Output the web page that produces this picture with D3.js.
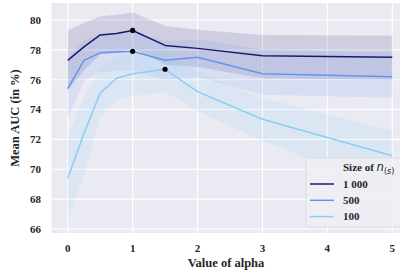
<!DOCTYPE html>
<html><head><meta charset="utf-8">
<script src="https://cdn.jsdelivr.net/npm/d3@7"></script>
<style>body{margin:0;background:#fff}svg{display:block}</style>
</head><body>
<svg id="c" width="400" height="277"></svg>
<script>
const alphas = [0, 0.25, 0.5, 0.75, 1, 1.5, 2, 3, 5];
const seriesNames = ["1 000", "500", "100"];
const mean1000 = [77.3, 78.2, 79.0, 79.1, 79.3, 78.3, 78.1, 77.6, 77.5];
const up1000   = [79.3, 79.8, 80.25, 80.35, 80.5, 79.6, 79.35, 79.0, 78.95];
const lo1000   = [75.3, 76.6, 77.7, 77.8, 78.1, 77.0, 76.85, 76.1, 76.0];
const mean500  = [75.4, 77.3, 77.8, 77.85, 77.9, 77.3, 77.5, 76.4, 76.2];
const up500    = [77.4, 78.7, 79.0, 79.1, 79.2, 78.6, 78.7, 78.0, 77.8];
const lo500    = [73.4, 75.9, 76.5, 76.6, 76.6, 76.0, 76.2, 75.0, 74.8];
const mean100  = [69.4, 72.4, 75.1, 76.1, 76.4, 76.7, 75.2, 73.35, 70.9];
const up100    = [72.2, 74.8, 76.8, 77.5, 77.8, 78.0, 76.5, 74.8, 72.6];
const lo100    = [66.6, 69.6, 73.5, 74.6, 74.9, 75.2, 73.9, 71.9, 68.6];
const xTicks = [0, 1, 2, 3, 4, 5];
const yTicks = [66, 68, 70, 72, 74, 76, 78, 80];
const colors = ["#191970", "#6495ED", "#87CEFA"];

const series = [
  {name: seriesNames[0], mean: mean1000, up: up1000, lo: lo1000, color: colors[0]},
  {name: seriesNames[1], mean: mean500, up: up500, lo: lo500, color: colors[1]},
  {name: seriesNames[2], mean: mean100, up: up100, lo: lo100, color: colors[2]}
];

const svg = d3.select("#c");
const L = 51.5, R = 408.5, T = 3, B = 233;
const x = d3.scaleLinear().domain([-0.25, 5.25]).range([L, R]);
const y = d3.scaleLinear().domain([65.73, 81.14]).range([B, T]);
const serif = "'Liberation Serif','DejaVu Serif',serif";
const txt = "#262626";

svg.append("rect").attr("x", L).attr("y", T).attr("width", R - L).attr("height", B - T).attr("fill", "#EAEAF2");

const g = svg.append("g");
g.selectAll("line.gx").data(xTicks).join("line")
  .attr("x1", d => x(d)).attr("x2", d => x(d)).attr("y1", T).attr("y2", B)
  .attr("stroke", "#fff").attr("stroke-width", 1.1);
g.selectAll("line.gy").data(yTicks).join("line").attr("class","gy")
  .attr("y1", d => y(d)).attr("y2", d => y(d)).attr("x1", L).attr("x2", R)
  .attr("stroke", "#fff").attr("stroke-width", 1.1);

const area = d3.area().x((d, i) => x(alphas[i])).y0(d => y(d[0])).y1(d => y(d[1]));
const line = d3.line().x((d, i) => x(alphas[i])).y(d => y(d));

series.forEach(s => {
  const band = s.lo.map((v, i) => [v, s.up[i]]);
  svg.append("path").attr("d", area(band)).attr("fill", s.color).attr("fill-opacity", 0.13);
});
series.forEach(s => {
  svg.append("path").attr("d", line(s.mean)).attr("fill", "none")
    .attr("stroke", s.color).attr("stroke-width", 1.5).attr("stroke-linejoin", "round");
});
series.forEach(s => {
  const i = d3.maxIndex(s.mean);
  svg.append("circle").attr("cx", x(alphas[i])).attr("cy", y(s.mean[i])).attr("r", 2.6).attr("fill", "#000");
});

// tick labels
svg.append("g").selectAll("text").data(xTicks).join("text")
  .attr("x", d => x(d)).attr("y", 252).attr("text-anchor", "middle")
  .attr("font-family", serif).attr("font-weight", "bold").attr("font-size", 11).attr("fill", txt)
  .text(d => d);
svg.append("g").selectAll("text").data(yTicks).join("text")
  .attr("x", 41).attr("y", d => y(d)).attr("dy", "0.35em").attr("text-anchor", "end")
  .attr("font-family", serif).attr("font-weight", "bold").attr("font-size", 11).attr("fill", txt)
  .text(d => d);

svg.append("text").attr("x", 226).attr("y", 267).attr("text-anchor", "middle")
  .attr("font-family", serif).attr("font-weight", "bold").attr("font-size", 12.5).attr("fill", txt)
  .text("Value of alpha");
svg.append("text").attr("transform", "translate(19,118) rotate(-90)").attr("text-anchor", "middle")
  .attr("font-family", serif).attr("font-weight", "bold").attr("font-size", 12.5).attr("fill", txt)
  .text("Mean AUC (in %)");

// legend
const lg = svg.append("g");
lg.append("rect").attr("x", 306).attr("y", 158).attr("width", 104).attr("height", 69).attr("rx", 3)
  .attr("fill", "#EEEEF4").attr("fill-opacity", 0.85).attr("stroke", "#d8d8dc").attr("stroke-width", 0.8);
const title = lg.append("text").attr("x", 343).attr("y", 171)
  .attr("font-family", serif).attr("font-weight", "bold").attr("font-size", 11).attr("fill", txt);
title.append("tspan").text("Size of ");
title.append("tspan").attr("font-family", "'DejaVu Sans',sans-serif").attr("font-style", "italic")
  .attr("font-weight", "normal").attr("font-size", 11.5).text("n");
title.append("tspan").attr("font-family", "'DejaVu Sans',sans-serif").attr("font-weight", "normal")
  .attr("font-size", 8).attr("dy", 2.5).text("(");
title.append("tspan").attr("font-family", "'DejaVu Sans',sans-serif").attr("font-style", "italic").attr("font-weight", "normal")
  .attr("font-size", 8).text("s");
title.append("tspan").attr("font-family", "'DejaVu Sans',sans-serif").attr("font-weight", "normal")
  .attr("font-size", 8).text(")");
series.forEach((s, i) => {
  const yy = 184 + i * 16.3;
  lg.append("line").attr("x1", 310).attr("x2", 334).attr("y1", yy).attr("y2", yy)
    .attr("stroke", s.color).attr("stroke-width", 1.5);
  lg.append("text").attr("x", 343).attr("y", yy).attr("dy", "0.35em")
    .attr("font-family", serif).attr("font-weight", "bold").attr("font-size", 11).attr("fill", txt)
    .text(s.name);
});
</script>
</body></html>
